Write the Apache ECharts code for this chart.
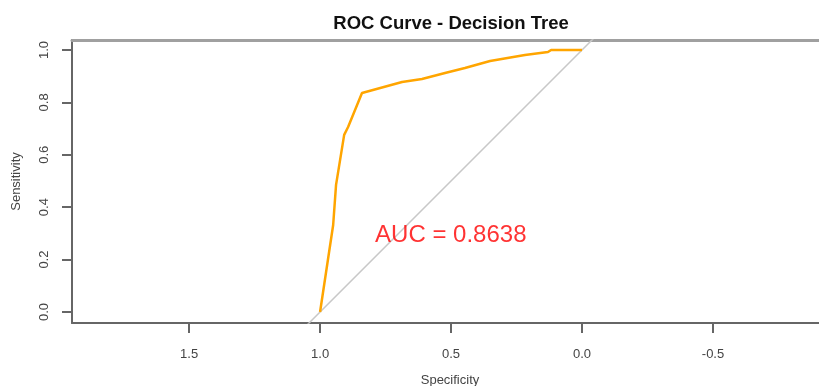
<!DOCTYPE html>
<html>
<head>
<meta charset="utf-8">
<script src="https://cdn.jsdelivr.net/npm/echarts@6/dist/echarts.min.js"></script>
<style>
  html, body { margin: 0; padding: 0; background: #ffffff; }
  #chart { width: 819px; height: 386px; }
</style>
</head>
<body>
<div id="chart"></div>
<script>
// ROC curve points for the decision tree model
const specificity = [1.000, 0.969, 0.950, 0.939, 0.908, 0.893, 0.840, 0.687, 0.611, 0.523, 0.447, 0.351, 0.218, 0.130, 0.118, 0.000];
const sensitivity = [0.000, 0.206, 0.332, 0.485, 0.676, 0.706, 0.836, 0.878, 0.889, 0.912, 0.931, 0.958, 0.981, 0.992, 1.000, 1.000];

// Chance line ends (sensitivity = 1 - specificity), clipped to the plot box
const chanceSpec = [1.2, -0.2];

// Axis ticks
const xTicks = [1.5, 1.0, 0.5, 0.0, -0.5];
const yTicks = [0.0, 0.2, 0.4, 0.6, 0.8, 1.0];

// Area under the curve and where its label sits (specificity, sensitivity)
const aucValue = 0.8638;
const aucPos = [0.79, 0.294];

const FONT = 'Liberation Sans, Arial, Helvetica, sans-serif';
const X_MIN = -0.939, X_MAX = 1.947;
const rocLine = specificity.map((s, i) => [s, sensitivity[i]]);
const chanceLine = chanceSpec.map(s => [s, 1 - s]);

const chart = echarts.init(document.getElementById('chart'), null, { renderer: 'canvas' });

chart.setOption({
  animation: false,
  backgroundColor: '#ffffff',
  title: {
    text: 'ROC Curve - Decision Tree',
    left: 446,
    top: 9,
    textAlign: 'center',
    textStyle: { fontFamily: FONT, fontSize: 18.5, fontWeight: 'bold', color: '#111' }
  },
  grid: {
    left: 72, right: -9, top: 40, bottom: 63,
    outerBoundsMode: 'none',
    containLabel: false,
    show: false
  },
  xAxis: [
    {
      type: 'value',
      inverse: true,
      min: X_MIN,
      max: X_MAX,
      name: 'Specificity',
      nameLocation: 'middle',
      nameGap: 51,
      nameTextStyle: { fontFamily: FONT, fontSize: 13, color: '#444' },
      splitLine: { show: false },
      axisLine: { show: true, onZero: false, lineStyle: { color: '#666', width: 2 } },
      axisTick: { show: true, customValues: xTicks, length: 10, lineStyle: { color: '#666', width: 2 } },
      axisLabel: {
        customValues: xTicks,
        margin: 25,
        fontFamily: FONT, fontSize: 13, color: '#444',
        formatter: v => v.toFixed(1)
      }
    },
    {
      // upper edge of the plot box
      type: 'value',
      position: 'top',
      inverse: true,
      min: X_MIN,
      max: X_MAX,
      splitLine: { show: false },
      axisLine: { show: true, onZero: false, lineStyle: { color: '#a0a0a0', width: 3 } },
      axisTick: { show: false },
      axisLabel: { show: false }
    }
  ],
  yAxis: {
    type: 'value',
    min: -0.042,
    max: 1.038,
    name: 'Sensitivity',
    nameLocation: 'middle',
    nameGap: 49,
    nameRotate: 90,
    nameTextStyle: { fontFamily: FONT, fontSize: 13, color: '#444' },
    splitLine: { show: false },
    axisLine: { show: true, onZero: false, lineStyle: { color: '#666', width: 2 } },
    axisTick: { show: true, customValues: yTicks, length: 10, lineStyle: { color: '#666', width: 2 } },
    axisLabel: {
      customValues: yTicks,
      rotate: 90,
      margin: 21,
      fontFamily: FONT, fontSize: 13, color: '#444',
      formatter: v => v.toFixed(1)
    }
  },
  series: [
    {
      name: 'Chance',
      type: 'line',
      data: chanceLine,
      clip: true,
      symbol: 'none',
      silent: true,
      lineStyle: { color: '#c8c8c8', width: 1.5 },
      z: 1
    },
    {
      name: 'Decision Tree',
      type: 'line',
      data: rocLine,
      symbol: 'none',
      lineStyle: { color: '#ffa500', width: 2.5 },
      z: 2
    },
    {
      name: 'AUC',
      type: 'scatter',
      data: [aucPos],
      symbolSize: 0,
      silent: true,
      label: {
        show: true,
        position: 'right',
        distance: 0,
        formatter: 'AUC = ' + aucValue.toFixed(4),
        fontFamily: FONT,
        fontSize: 24,
        color: '#ff0000'
      },
      z: 3
    }
  ]
});
</script>
</body>
</html>
